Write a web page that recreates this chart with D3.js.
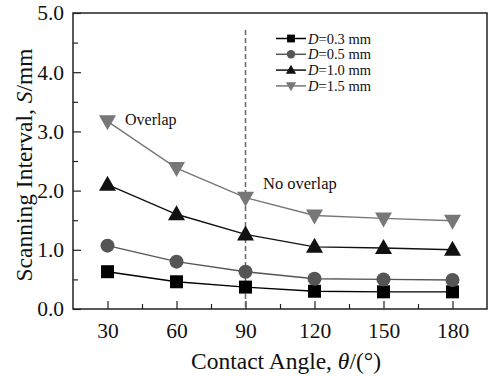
<!DOCTYPE html>
<html>
<head>
<meta charset="utf-8">
<script src="https://cdn.jsdelivr.net/npm/d3@7"></script>
<style>
  body { margin: 0; background: #fff; }
  text { font-family: "Liberation Serif", "DejaVu Serif", serif; }
</style>
</head>
<body>
<div id="chart"></div>
<script>
const angles = [30, 60, 90, 120, 150, 180];
const d03 = [0.63, 0.46, 0.37, 0.30, 0.29, 0.29];
const d05 = [1.07, 0.80, 0.63, 0.51, 0.50, 0.49];
const d10 = [2.10, 1.60, 1.26, 1.05, 1.03, 1.00];
const d15 = [3.17, 2.38, 1.88, 1.58, 1.53, 1.49];
const yTicks = [0, 1, 2, 3, 4, 5];

const series = [
  { label: "=0.3 mm", values: d03, color: "#000", symbol: "square" },
  { label: "=0.5 mm", values: d05, color: "#555", symbol: "circle" },
  { label: "=1.0 mm", values: d10, color: "#111", symbol: "up" },
  { label: "=1.5 mm", values: d15, color: "#777", symbol: "down" },
];

const w = 489, h = 376;
const margin = { left: 73, right: 2, top: 13, bottom: 67 };

const svg = d3.select("#chart").append("svg")
  .attr("width", w).attr("height", h);

const x = d3.scaleLinear().domain([15, 195]).range([margin.left, w - margin.right]);
const y = d3.scaleLinear().domain([0, 5]).range([h - margin.bottom, margin.top]);

// frame
svg.append("rect")
  .attr("x", margin.left).attr("y", margin.top)
  .attr("width", w - margin.right - margin.left)
  .attr("height", h - margin.bottom - margin.top)
  .attr("fill", "none").attr("stroke", "#222").attr("stroke-width", 1.5);

// x axis, ticks pointing in
svg.append("g")
  .attr("transform", `translate(0,${y(0)})`)
  .call(d3.axisBottom(x).tickValues(angles).tickSize(-8).tickPadding(14).tickFormat(d3.format("d")));
svg.append("g")
  .attr("transform", `translate(0,${y(0)})`)
  .call(d3.axisBottom(x).tickValues(angles.map(a => a + 15).filter(a => a < 195)).tickSize(-5).tickFormat(""));

svg.append("g")
  .attr("transform", `translate(${margin.left},0)`)
  .call(d3.axisLeft(y).tickValues(yTicks).tickSize(-8).tickPadding(9).tickFormat(d3.format(".1f")));
svg.append("g")
  .attr("transform", `translate(${margin.left},0)`)
  .call(d3.axisLeft(y).tickValues(yTicks.slice(0, -1).map(v => v + 0.5)).tickSize(-5).tickFormat(""));

svg.selectAll(".domain").remove();
svg.selectAll(".tick line").attr("stroke", "#222").attr("stroke-width", 1.2);
svg.selectAll(".tick text")
  .attr("font-size", 21.5).attr("fill", "#111")
  .style("font-family", "Liberation Serif, serif");

// dashed separator at 90°
svg.append("line")
  .attr("x1", x(90)).attr("x2", x(90))
  .attr("y1", 30).attr("y2", y(0))
  .attr("stroke", "#666").attr("stroke-width", 1.5)
  .attr("stroke-dasharray", "5,3");

const line = d3.line().x((d, i) => x(angles[i])).y(d => y(d));

const drawMarker = (g, sym, cx, cy, color, s) => {
  if (sym === "square") {
    g.append("rect").attr("x", cx - 6.5 * s).attr("y", cy - 6.5 * s)
      .attr("width", 13 * s).attr("height", 13 * s).attr("fill", color);
  } else if (sym === "circle") {
    g.append("circle").attr("cx", cx).attr("cy", cy).attr("r", 7 * s).attr("fill", color);
  } else if (sym === "up") {
    g.append("path").attr("d", `M${cx},${cy - 9 * s}L${cx + 8.5 * s},${cy + 6 * s}L${cx - 8.5 * s},${cy + 6 * s}Z`).attr("fill", color);
  } else {
    g.append("path").attr("d", `M${cx},${cy + 9 * s}L${cx + 8.5 * s},${cy - 6 * s}L${cx - 8.5 * s},${cy - 6 * s}Z`).attr("fill", color);
  }
};

series.forEach(s => {
  svg.append("path")
    .attr("d", line(s.values))
    .attr("fill", "none").attr("stroke", s.color).attr("stroke-width", 1.4);
  const g = svg.append("g");
  s.values.forEach((v, i) => drawMarker(g, s.symbol, x(angles[i]), y(v), s.color, 1));
});

// legend
const legend = svg.append("g");
series.forEach((s, i) => {
  const ly = 38.5 + i * 15.8;
  legend.append("line").attr("x1", 276).attr("x2", 306).attr("y1", ly).attr("y2", ly)
    .attr("stroke", s.color).attr("stroke-width", 1.5);
  drawMarker(legend, s.symbol, 291, ly, s.color, 0.6);
  const t = legend.append("text").attr("x", 308).attr("y", ly + 5)
    .attr("font-size", 14.5).attr("fill", "#111");
  t.append("tspan").attr("font-style", "italic").text("D");
  t.append("tspan").text(s.label);
});

// annotations
svg.append("text").attr("x", 125).attr("y", 125).attr("font-size", 16).attr("fill", "#111").text("Overlap");
svg.append("text").attr("x", 263).attr("y", 189).attr("font-size", 16.5).attr("fill", "#111").text("No overlap");

// axis titles
const xt = svg.append("text").attr("x", 286).attr("y", 369)
  .attr("text-anchor", "middle").attr("font-size", 23.5).attr("fill", "#111");
xt.append("tspan").text("Contact Angle, ");
xt.append("tspan").attr("font-style", "italic").text("θ");
xt.append("tspan").text("/(°)");

const yt = svg.append("text")
  .attr("transform", `translate(32,${y(2.5) + 4}) rotate(-90)`)
  .attr("text-anchor", "middle").attr("font-size", 23.5).attr("fill", "#111");
yt.append("tspan").text("Scanning Interval, ");
yt.append("tspan").attr("font-style", "italic").text("S");
yt.append("tspan").text("/mm");
</script>
</body>
</html>
